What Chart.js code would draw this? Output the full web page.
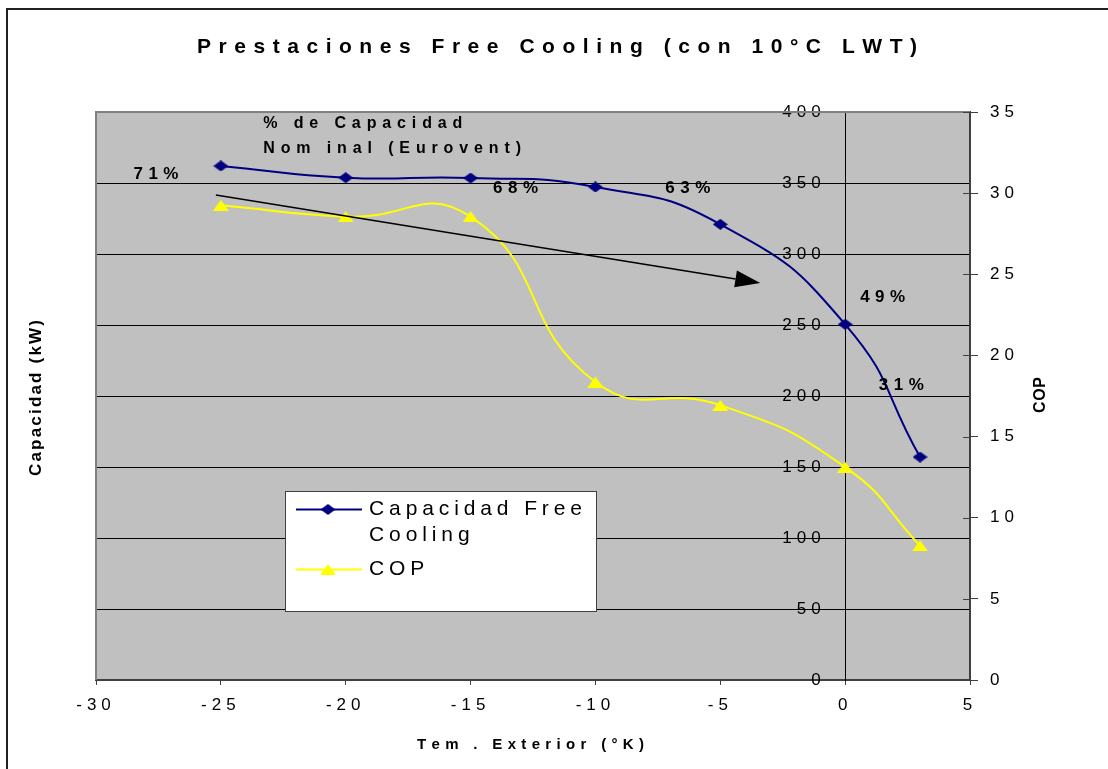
<!DOCTYPE html>
<html><head><meta charset="utf-8">
<script src="https://cdn.jsdelivr.net/npm/chart.js@4.4.0/dist/chart.umd.min.js"></script>
<style>html,body{margin:0;padding:0;background:#fff;overflow:hidden}canvas{display:block}</style>
</head><body>
<canvas id="c" width="1108" height="769"></canvas>
<script>
// ---- data ----
const temps = [-25, -20, -15, -10, -5, 0, 3];
const capacidad = [362, 353.7, 353.5, 347.2, 320.9, 250.5, 157];
const cop = [29.25, 28.55, 28.55, 18.36, 16.93, 13.12, 8.27];
const xRange = [-30, 5, 5];
const capRange = [0, 400, 50];
const copRange = [0, 35, 5];
const seriesNames = ['Capacidad Free Cooling', 'COP'];
const legendLines = [['Capacidad Free', 'Cooling'], ['COP']];
const pctLabels = ['71%', '68%', '63%', '49%', '31%'];
const pctX = [-28.5, -14.1, -7.2, 0.6, 1.35];
const pctY = [356, 346, 346.5, 269.5, 207.5];
const noteLines = ['% de Capacidad', 'Nom inal (Eurovent)'];
const noteX = -23.3;
const noteY = [391.5, 374.5];
const arrowFrom = [-25.2, 341.5];
const arrowTo = [-3.4, 279.6];
const titleText = 'Prestaciones Free Cooling (con 10°C LWT)';
const xTitle = 'Tem . Exterior (°K)';
const yTitle = 'Capacidad (kW)';
const y2Title = 'COP';

const FONT = "'Liberation Sans', Arial, sans-serif";
const NAVY = '#000080', YELLOW = '#FFFF00';

function makeMarker(kind, w, h, color) {
  const c = document.createElement('canvas');
  c.width = w; c.height = h;
  const g = c.getContext('2d');
  g.fillStyle = color;
  g.beginPath();
  if (kind === 'diamond') {
    g.moveTo(w / 2, 0); g.lineTo(w, h / 2); g.lineTo(w / 2, h); g.lineTo(0, h / 2);
  } else {
    g.moveTo(w / 2, 0); g.lineTo(w, h); g.lineTo(0, h);
  }
  g.closePath(); g.fill();
  return c;
}
const diamond = makeMarker('diamond', 15, 11, NAVY);
const triangle = makeMarker('triangle', 16, 11, YELLOW);

function charWidths(ctx, text) { return [...text].map(ch => ctx.measureText(ch).width); }
function drawSpaced(ctx, text, x, y, spacing, align) {
  const ws = charWidths(ctx, text);
  const total = ws.reduce((a, b) => a + b, 0) + spacing * (ws.length - 1);
  let sx = align === 'center' ? x - total / 2 : (align === 'right' ? x - total : x);
  ctx.textAlign = 'left';
  [...text].forEach((ch, i) => { ctx.fillText(ch, sx, y); sx += ws[i] + spacing; });
}
function fitSpacing(ctx, text, width) {
  const ws = charWidths(ctx, text);
  const sum = ws.reduce((a, b) => a + b, 0);
  return Math.max(0, (width - sum) / (ws.length - 1));
}

const decor = {
  id: 'decor',
  beforeDraw(chart) {
    const {ctx, chartArea: a} = chart;
    ctx.save();
    ctx.fillStyle = '#C0C0C0';
    ctx.fillRect(a.left, a.top, a.right - a.left, a.bottom - a.top);
    ctx.restore();
    ctx.letterSpacing = '5px';
  },
  beforeDatasetsDraw(chart) {
    const {ctx, chartArea: a} = chart;
    ctx.save();
    ctx.strokeStyle = '#808080';
    ctx.lineWidth = 2;
    ctx.beginPath();
    ctx.moveTo(a.left, a.bottom); ctx.lineTo(a.left, a.top); ctx.lineTo(a.right, a.top);
    ctx.stroke();
    // inner halves of right-axis cross ticks
    const y2 = chart.scales.y2;
    ctx.strokeStyle = '#404040'; ctx.lineWidth = 1;
    y2.ticks.forEach(t => {
      const py = Math.round(y2.getPixelForValue(t.value)) + 0.5;
      ctx.beginPath(); ctx.moveTo(a.right - 7, py); ctx.lineTo(a.right, py); ctx.stroke();
    });
    ctx.restore();
  },
  afterDatasetsDraw(chart) {
    const {ctx} = chart;
    const xs = chart.scales.x, ys = chart.scales.y;
    ctx.save();
    ctx.letterSpacing = '0px';
    // arrow
    const x1 = xs.getPixelForValue(arrowFrom[0]), y1 = ys.getPixelForValue(arrowFrom[1]);
    const x2 = xs.getPixelForValue(arrowTo[0]), y2 = ys.getPixelForValue(arrowTo[1]);
    const ang = Math.atan2(y2 - y1, x2 - x1);
    const hl = 25, hw = 8.5;
    const bx = x2 - hl * Math.cos(ang), by = y2 - hl * Math.sin(ang);
    ctx.strokeStyle = '#000'; ctx.lineWidth = 1.5;
    ctx.beginPath(); ctx.moveTo(x1, y1); ctx.lineTo(bx, by); ctx.stroke();
    ctx.fillStyle = '#000';
    ctx.beginPath();
    ctx.moveTo(x2, y2);
    ctx.lineTo(bx + hw * Math.sin(ang), by - hw * Math.cos(ang));
    ctx.lineTo(bx - hw * Math.sin(ang), by + hw * Math.cos(ang));
    ctx.closePath(); ctx.fill();
    // percentage labels
    ctx.fillStyle = '#000';
    ctx.textBaseline = 'middle';
    ctx.font = 'bold 17px ' + FONT;
    pctLabels.forEach((t, i) => {
      const sp = fitSpacing(ctx, t, 45);
      drawSpaced(ctx, t, xs.getPixelForValue(pctX[i]), ys.getPixelForValue(pctY[i]), sp, 'left');
    });
    ctx.font = 'bold 16px ' + FONT;
    const spN = fitSpacing(ctx, noteLines[0], 199);
    noteLines.forEach((t, i) => {
      drawSpaced(ctx, t, xs.getPixelForValue(noteX), ys.getPixelForValue(noteY[i]), spN, 'left');
    });
    // legend box
    ctx.fillStyle = '#fff';
    ctx.fillRect(285, 491, 311, 120);
    ctx.strokeStyle = '#404040'; ctx.lineWidth = 1;
    ctx.strokeRect(285.5, 491.5, 311, 120);
    const rowsY = [[509, 535], [569]];
    const colors = [NAVY, YELLOW];
    const marks = [diamond, triangle];
    ctx.font = '21px ' + FONT;
    const spL = fitSpacing(ctx, legendLines[0][0], 213);
    legendLines.forEach((lines, i) => {
      const ly = rowsY[i][0];
      ctx.strokeStyle = colors[i]; ctx.lineWidth = 2;
      ctx.beginPath(); ctx.moveTo(296, ly + 0.5); ctx.lineTo(362, ly + 0.5); ctx.stroke();
      const m = marks[i];
      ctx.drawImage(m, 328 - m.width / 2, ly + 0.5 - m.height / 2);
      ctx.fillStyle = '#000';
      lines.forEach((t, j) => drawSpaced(ctx, t, 369, rowsY[i][j], spL, 'left'));
    });
    ctx.restore();
  },
  afterDraw(chart) {
    const {ctx} = chart;
    ctx.save();
    ctx.letterSpacing = '0px';
    ctx.fillStyle = '#000';
    ctx.textBaseline = 'middle';
    // title
    ctx.font = 'bold 21px ' + FONT;
    drawSpaced(ctx, titleText, 197, 47, fitSpacing(ctx, titleText, 720), 'left');
    // x title
    ctx.font = 'bold 15px ' + FONT;
    drawSpaced(ctx, xTitle, 417, 745, fitSpacing(ctx, xTitle, 227), 'left');
    // y title
    ctx.save();
    ctx.translate(36, 398); ctx.rotate(-Math.PI / 2);
    ctx.font = 'bold 17px ' + FONT;
    drawSpaced(ctx, yTitle, 0, 0, fitSpacing(ctx, yTitle, 156), 'center');
    ctx.restore();
    ctx.save();
    ctx.translate(1041, 395); ctx.rotate(-Math.PI / 2);
    ctx.font = 'bold 16px ' + FONT;
    drawSpaced(ctx, y2Title, 0, 0, fitSpacing(ctx, y2Title, 36), 'center');
    ctx.restore();
    // outer frame
    ctx.strokeStyle = '#202020'; ctx.lineWidth = 2;
    ctx.beginPath();
    ctx.moveTo(7, 775); ctx.lineTo(7, 9); ctx.lineTo(1115, 9);
    ctx.stroke();
    ctx.restore();
  }
};

const tickFont = {family: FONT, size: 17};

new Chart(document.getElementById('c'), {
  type: 'scatter',
  data: {
    datasets: [
      {
        label: seriesNames[0],
        data: temps.map((t, i) => ({x: t, y: capacidad[i]})),
        yAxisID: 'y',
        showLine: true,
        borderColor: NAVY, backgroundColor: NAVY,
        borderWidth: 2,
        tension: 0.5,
        pointStyle: diamond, pointRadius: 5
      },
      {
        label: seriesNames[1],
        data: temps.map((t, i) => ({x: t, y: cop[i]})),
        yAxisID: 'y2',
        showLine: true,
        borderColor: YELLOW, backgroundColor: YELLOW,
        borderWidth: 2,
        tension: 0.5,
        pointStyle: triangle, pointRadius: 5
      }
    ]
  },
  options: {
    responsive: false,
    animation: false,
    devicePixelRatio: 1,
    layout: {padding: {top: 112, left: 96, right: 0, bottom: 0}},
    plugins: {legend: {display: false}, title: {display: false}, tooltip: {enabled: false}},
    scales: {
      x: {
        type: 'linear', position: 'bottom',
        min: xRange[0], max: xRange[1],
        afterFit(s) { s.height = 89; },
        ticks: {stepSize: xRange[2], color: '#000', font: tickFont, padding: 10, maxRotation: 0},
        grid: {drawOnChartArea: false, drawTicks: true, tickLength: 5, color: '#404040'},
        border: {color: '#404040', width: 2}
      },
      y: {
        type: 'linear', position: {x: 0},
        min: capRange[0], max: capRange[1],
        ticks: {stepSize: capRange[2], color: '#000', font: tickFont, padding: 10,
          callback: v => v + '  '},
        grid: {
          color: c => (c.tick && (c.tick.value === capRange[1] || c.tick.value === capRange[0])) ? 'rgba(0,0,0,0)' : '#000',
          tickColor: '#000', tickLength: 8, lineWidth: 1
        },
        border: {color: '#000', width: 1}
      },
      y2: {
        type: 'linear', position: 'right',
        min: copRange[0], max: copRange[1],
        afterFit(s) { s.width = 138; },
        ticks: {stepSize: copRange[2], color: '#000', font: tickFont, padding: 12},
        grid: {drawOnChartArea: false, tickLength: 8, color: '#404040'},
        border: {color: '#404040', width: 2}
      }
    }
  },
  plugins: [decor]
});
</script>
</body></html>
